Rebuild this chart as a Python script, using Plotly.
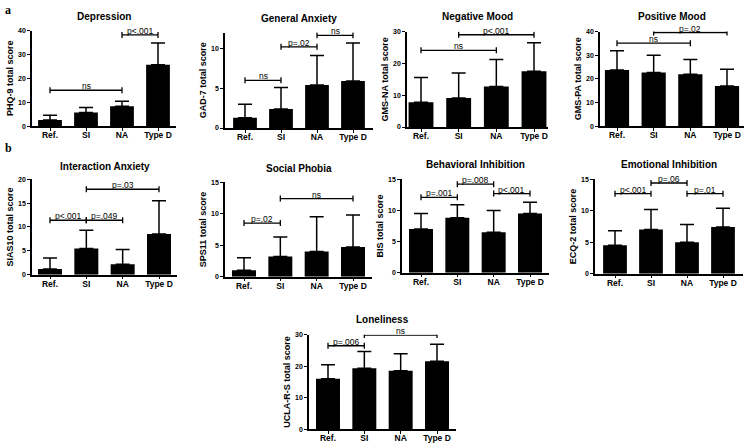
import plotly.graph_objects as go

W, H = 748, 447

groups = ["Ref.", "SI", "NA", "Type D"]

# ---- data (means and SD) ----
phq9_mean = [2.5, 5.7, 8.3, 25.7]
phq9_sd = [2.0, 2.1, 2.1, 9.1]
gad7_mean = [1.3, 2.4, 5.4, 5.9]
gad7_sd = [1.7, 2.7, 3.7, 4.8]
gmsna_mean = [7.8, 9.1, 12.7, 17.5]
gmsna_sd = [7.8, 7.9, 8.5, 9.0]
gmspa_mean = [23.7, 22.7, 21.9, 17.0]
gmspa_sd = [8.2, 7.3, 6.3, 7.0]
sias_mean = [1.2, 5.5, 2.2, 8.5]
sias_sd = [2.3, 3.8, 3.1, 7.0]
sps_mean = [1.0, 3.2, 4.0, 4.7]
sps_sd = [2.0, 3.1, 5.5, 5.1]
bis_mean = [7.0, 8.8, 6.5, 9.5]
bis_sd = [2.5, 2.1, 3.5, 1.8]
ecq_mean = [4.5, 7.0, 5.0, 7.4]
ecq_sd = [2.3, 3.2, 2.8, 3.0]
ucla_mean = [16.0, 19.4, 18.6, 21.6]
ucla_sd = [4.5, 5.3, 5.4, 5.4]

# comparisons: (from group, to group, level, label)
phq9_cmp = [(0, 2, 15.0, "ns"), (2, 3, 38.2, "p<.001")]
gad7_cmp = [(0, 1, 6.0, "ns"), (1, 2, 10.2, "p=.02"), (2, 3, 11.65, "ns")]
gmsna_cmp = [(0, 2, 24.1, "ns"), (1, 3, 29.0, "p<.001")]
gmspa_cmp = [(0, 2, 35.1, "ns"), (1, 3, 39.6, "p=.02")]
sias_cmp = [(0, 1, 11.4, "p<.001"), (1, 2, 11.4, "p=.049"), (1, 3, 17.9, "p=.03")]
sps_cmp = [(0, 1, 8.5, "p=.02"), (1, 3, 12.4, "ns")]
bis_cmp = [(0, 1, 12.1, "p=.001"), (1, 2, 14.2, "p=.008"), (2, 3, 12.7, "p<.001")]
ecq_cmp = [(0, 1, 12.7, "p<.001"), (1, 2, 14.4, "p=.06"), (2, 3, 12.7, "p=.01")]
ucla_cmp = [(0, 1, 26.5, "p=.006"), (1, 3, 29.9, "ns")]

# ---- layout of panels (pixels) ----
panels = [
    dict(title="Depression", ylab="PHQ-9 total score", mean=phq9_mean, sd=phq9_sd, cmp=phq9_cmp,
         ymax=40, dtick=10, x0=32, ref=50, td=158, ytop=27, ybot=124, ty=13),
    dict(title="General Anxiety", ylab="GAD-7 total score", mean=gad7_mean, sd=gad7_sd, cmp=gad7_cmp,
         ymax=12, dtick=5, x0=225, ref=245, td=353, ytop=29, ybot=126, ty=15),
    dict(title="Negative Mood", ylab="GMS-NA total score", mean=gmsna_mean, sd=gmsna_sd, cmp=gmsna_cmp,
         ymax=30, dtick=10, x0=407, ref=421, td=534, ytop=28, ybot=125, ty=13),
    dict(title="Positive Mood", ylab="GMS-PA total score", mean=gmspa_mean, sd=gmspa_sd, cmp=gmspa_cmp,
         ymax=40, dtick=10, x0=600, ref=617, td=727, ytop=28, ybot=124, ty=13),
    dict(title="Interaction Anxiety", ylab="SIAS10 total score", mean=sias_mean, sd=sias_sd, cmp=sias_cmp,
         ymax=20, dtick=5, x0=32, ref=50, td=159, ytop=178, ybot=275, ty=165),
    dict(title="Social Phobia", ylab="SPS11 total score", mean=sps_mean, sd=sps_sd, cmp=sps_cmp,
         ymax=15, dtick=5, x0=225, ref=244, td=353, ytop=181, ybot=277, ty=167),
    dict(title="Behavioral Inhibition", ylab="BIS total score", mean=bis_mean, sd=bis_sd, cmp=bis_cmp,
         ymax=15, dtick=5, x0=402, ref=421, td=530, ytop=178, ybot=273, ty=163),
    dict(title="Emotional Inhibition", ylab="ECQ-2 total score", mean=ecq_mean, sd=ecq_sd, cmp=ecq_cmp,
         ymax=15, dtick=5, x0=595, ref=615, td=723, ytop=178, ybot=274, ty=163),
    dict(title="Loneliness", ylab="UCLA-R-S total score", mean=ucla_mean, sd=ucla_sd, cmp=ucla_cmp,
         ymax=30, dtick=10, x0=309, ref=328, td=437, ytop=336, ybot=432, ty=321),
]

FONT = "Liberation Sans, Arial, Helvetica, sans-serif"

fig = go.Figure()
layout = dict(width=W, height=H, margin=dict(l=0, r=0, t=0, b=0),
              paper_bgcolor="white", plot_bgcolor="white", showlegend=False,
              font=dict(family=FONT, color="black"))
shapes = []
annotations = []

for k, p in enumerate(panels, start=1):
    xa = "x" if k == 1 else f"x{k}"
    ya = "y" if k == 1 else f"y{k}"
    s = (p["td"] - p["ref"]) / 3.0
    gap = p["ref"] - p["x0"]
    x1 = p["x0"] + 2 * gap + 3 * s
    fig.add_trace(go.Bar(
        x=[0, 1, 2, 3], y=p["mean"], xaxis=xa, yaxis=ya,
        marker=dict(color="black", line=dict(width=0)), width=0.66,
        error_y=dict(type="data", array=p["sd"], arrayminus=[0, 0, 0, 0], symmetric=False,
                     color="black", thickness=1.5, width=7),
    ))
    axx = dict(domain=[p["x0"] / W, x1 / W], range=[-gap / s, 3 + gap / s], anchor=ya,
               tickvals=[0, 1, 2, 3], ticktext=groups, showline=True, linecolor="black",
               linewidth=1.5, ticks="outside", ticklen=3, tickwidth=1.2, tickcolor="black",
               showgrid=False, zeroline=False, fixedrange=True, ticklabelstandoff=-3,
               tickfont=dict(size=8.5, family=FONT, weight="bold", color="black"))
    axy = dict(domain=[1 - p["ybot"] / H, 1 - p["ytop"] / H], range=[0, p["ymax"]], anchor=xa,
               dtick=p["dtick"], tick0=0, showline=True, linecolor="black", linewidth=1.5,
               ticks="outside", ticklen=3, tickwidth=1.2, tickcolor="black",
               showgrid=False, zeroline=False, fixedrange=True,
               tickfont=dict(size=7, family=FONT, weight="bold", color="black"),
               title=dict(text=p["ylab"], standoff=3,
                          font=dict(size=9, family=FONT, weight="bold", color="black")))
    layout["xaxis" if k == 1 else f"xaxis{k}"] = axx
    layout["yaxis" if k == 1 else f"yaxis{k}"] = axy

    # title
    annotations.append(dict(text=p["title"], xref="paper", yref="paper",
                            x=(p["x0"] + x1) / 2 / W, y=1 - p["ty"] / H,
                            xanchor="center", yanchor="middle", showarrow=False,
                            font=dict(size=10, family=FONT, weight="bold", color="black")))
    # comparison brackets
    for (i, j, lev, lab) in p["cmp"]:
        shapes.append(dict(type="line", xref=xa, yref=ya, x0=i, x1=j, y0=lev, y1=lev,
                           line=dict(color="black", width=1.3)))
        for xx in (i, j):
            shapes.append(dict(type="line", xref=xa, yref=ya, xsizemode="scaled",
                               ysizemode="pixel", yanchor=lev, x0=xx, x1=xx, y0=-3, y1=3,
                               line=dict(color="black", width=1.3)))
        annotations.append(dict(text=lab, xref=xa, yref=ya, x=(i + j) / 2, y=lev,
                                xanchor="center", yanchor="bottom", showarrow=False,
                                yshift=-3,
                                font=dict(size=8.5, family=FONT, color="black")))

# panel letters
annotations.append(dict(text="<b>a</b>", xref="paper", yref="paper", x=3 / W, y=1 - 6 / H,
                        xanchor="left", yanchor="middle", showarrow=False,
                        font=dict(size=12, family="Liberation Serif, Times New Roman, serif", color="black")))
annotations.append(dict(text="<b>b</b>", xref="paper", yref="paper", x=3 / W, y=1 - 146 / H,
                        xanchor="left", yanchor="middle", showarrow=False,
                        font=dict(size=12, family="Liberation Serif, Times New Roman, serif", color="black")))

layout["shapes"] = shapes
layout["annotations"] = annotations
fig.update_layout(**layout)
fig.write_html("out.html", config={"displayModeBar": False},
               post_script="document.body.style.margin='0';document.body.style.padding='0';"
                           "document.documentElement.style.overflow='hidden';")
